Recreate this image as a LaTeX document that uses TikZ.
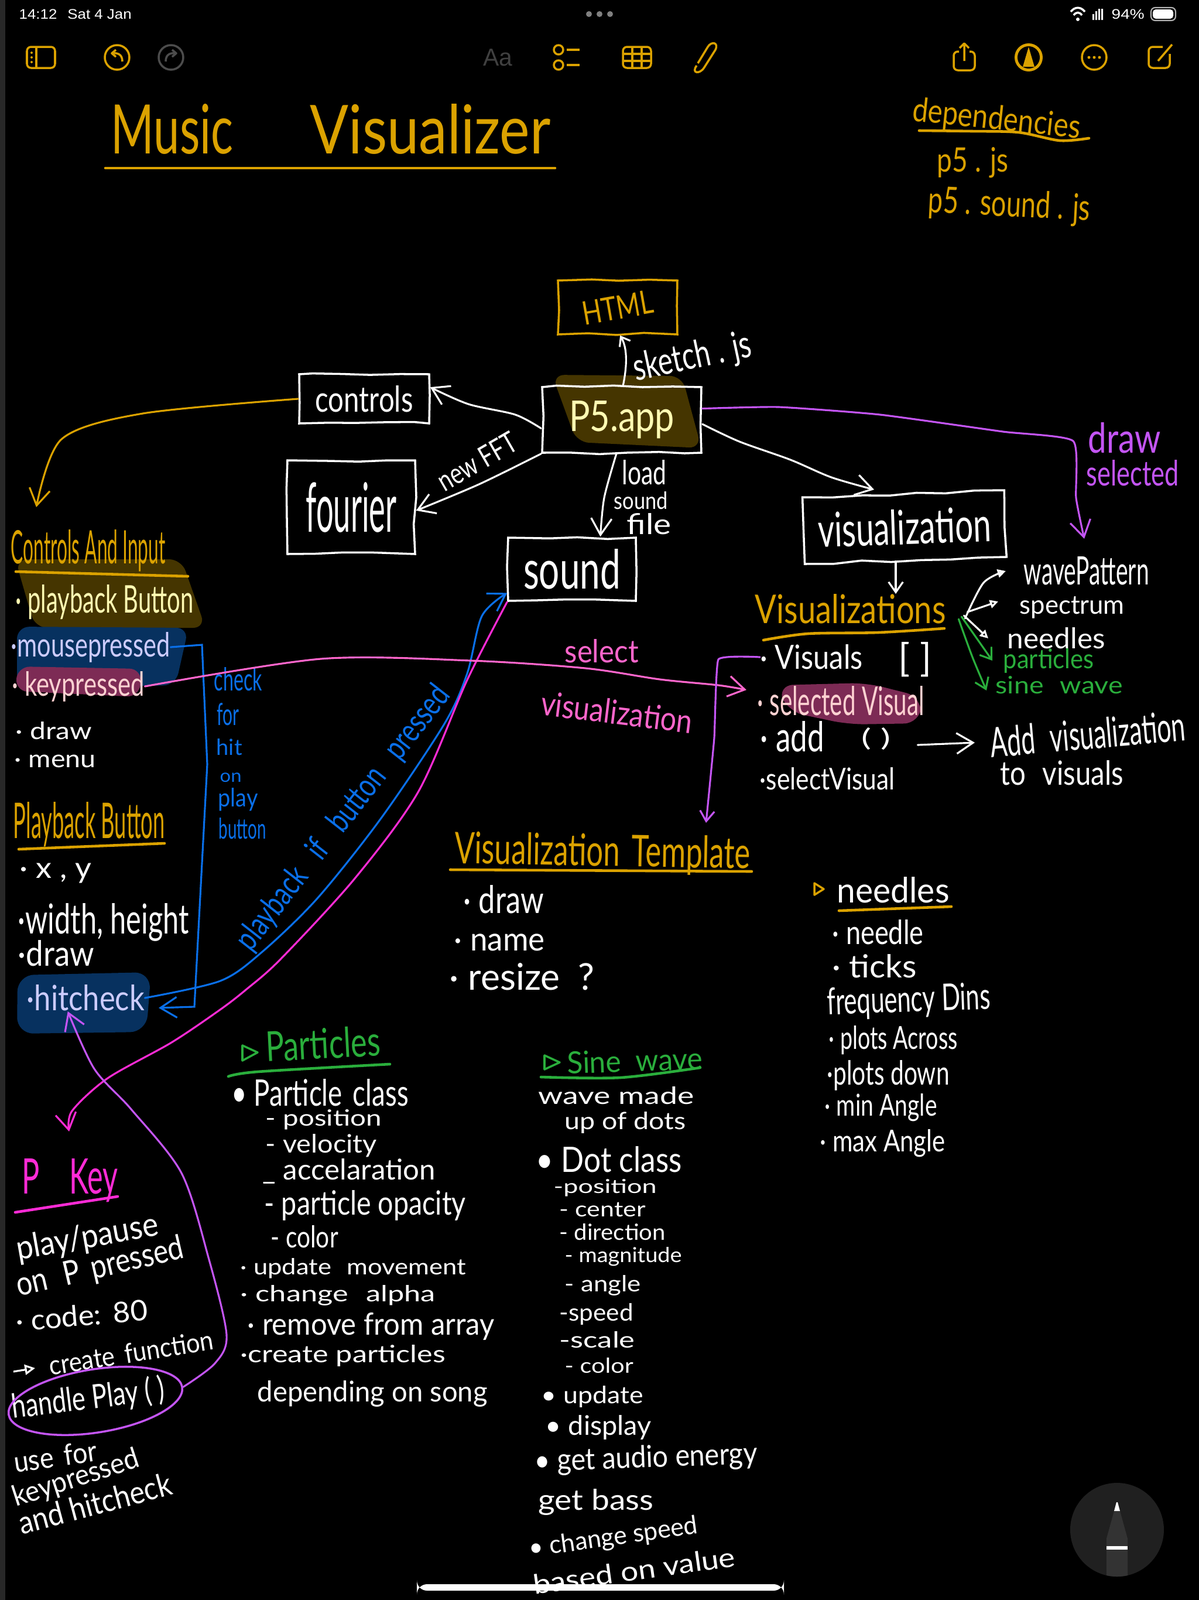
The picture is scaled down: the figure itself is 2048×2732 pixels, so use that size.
\documentclass[tikz,border=0pt]{standalone}
\usepackage{fontspec}
\usepackage{graphicx}
\usetikzlibrary{arrows.meta,decorations.pathmorphing,shapes.geometric}
\newfontfamily\handfont{Lato}
\newfontfamily\barfont{Liberation Sans}
\newlength\pxu
\setlength\pxu{0.01cm}
\newcommand{\hw}[3][30]{\resizebox{#2\pxu}{#1\pxu}{\handfont\vphantom{A}#3}}
\definecolor{penorange}{HTML}{DBA200}
\definecolor{pengreen}{HTML}{2AAE3C}
\definecolor{penblue}{HTML}{0A6FE8}
\definecolor{penpurple}{HTML}{C455F5}
\definecolor{penpink}{HTML}{FF66CC}
\definecolor{penmagenta}{HTML}{FF2BD6}
\definecolor{hlorange}{HTML}{453500}
\definecolor{hlblue}{HTML}{07315F}
\definecolor{hlpink}{HTML}{7D2B55}
\definecolor{barsoft}{HTML}{282828}
\definecolor{buttonsoft}{HTML}{202020}
\definecolor{pencilsoft}{HTML}{333333}
\tikzset{
  hand/.style={anchor=west,inner sep=0pt,text=white},
  boxed/.style={draw=white,text=white,line width=1pt,inner sep=0pt,
    decorate,decoration={random steps,segment length=14pt,amplitude=0.8pt}},
  conn/.style={->,white,line width=0.9pt,line cap=round,line join=round},
  small/.style={>={Straight Barb[length=5pt,width=7pt]}},
  ring/.style={-{Triangle[open,length=4pt,width=4pt]},white,line width=0.9pt,line cap=round},
  under/.style={line width=1.3pt,line cap=round},
  icon/.style={penorange,line width=1pt,line join=round}
}
\begin{document}
\begin{tikzpicture}[x=0.01cm,y=-0.01cm,>={Straight Barb[length=8pt,width=10pt]}]
  \useasboundingbox (0,0) rectangle (2048,2732);
  \fill[black] (0,0) rectangle (2048,2732);
  \fill[barsoft] (0,0) rectangle (9,2732);

  \node[hand] (clock) at (32,24) {\hw[17]{192}{\barfont 14:12\hspace{0.7em}Sat 4 Jan}};
  \fill[gray] (1006,24) circle (5) (1024,24) circle (5) (1042,24) circle (5);
  \draw[white,line width=1pt] (1829,20) .. controls (1836,11) and (1846,11) .. (1853,20);
  \draw[white,line width=1pt] (1834,26) .. controls (1838,20) and (1844,20) .. (1848,26);
  \fill[white] (1841,33) circle (3);
  \fill[white] (1866,24) rectangle (1869,34) (1871,19) rectangle (1874,34) (1876,15) rectangle (1879,34) (1881,15) rectangle (1884,34);
  \node[hand] (level) at (1898,24) {\hw[17]{56}{\barfont 94\%}};
  \draw[white!70!black,rounded corners=2pt,line width=0.6pt] (1966,13) rectangle (2008,35);
  \fill[white,rounded corners=1.5pt] (1969,16) rectangle (2004,32);

  \draw[icon,rounded corners=2pt] (46,80) rectangle (94,116);
  \draw[icon] (62,80) -- (62,116);
  \fill[penorange] (54,90) circle (2) (54,98) circle (2) (54,106) circle (2);
  \draw[icon] (200,98) circle (21);
  \draw[icon] (209,105) .. controls (209,92) and (200,90) .. (192,91);
  \draw[icon] (198,85) -- (191,91) -- (198,97);
  \draw[icon,draw=gray!60!black] (292,98) circle (21);
  \draw[icon,draw=gray!60!black] (283,105) .. controls (283,92) and (292,90) .. (300,91);
  \draw[icon,draw=gray!60!black] (294,85) -- (301,91) -- (294,97);
  \node[hand,text=gray!50!black] (aa) at (825,98) {\hw[30]{50}{\barfont Aa}};
  \draw[icon] (954,85) circle (8) (954,111) circle (8);
  \draw[icon] (968,85) -- (990,85) (968,111) -- (990,111);
  \draw[icon,rounded corners=2pt] (1064,80) rectangle (1112,116);
  \draw[icon] (1064,92) -- (1112,92) (1064,104) -- (1112,104) (1080,80) -- (1080,116) (1096,80) -- (1096,116);
  \draw[icon] (1190,112) .. controls (1180,125) and (1195,128) .. (1203,115) -- (1222,85) .. controls (1228,72) and (1215,70) .. (1209,80) -- (1192,108);
  \draw[icon,rounded corners=2pt] (1638,88) -- (1629,88) -- (1629,120) -- (1665,120) -- (1665,88) -- (1656,88);
  \draw[icon] (1647,104) -- (1647,74) (1639,82) -- (1647,74) -- (1655,82);
  \fill[penorange] (1757,98) circle (24);
  \fill[black] (1757,98) circle (19);
  \fill[penorange] (1757,80) -- (1767,114) -- (1747,114) -- cycle;
  \draw[icon] (1869,98) circle (21);
  \fill[penorange] (1860,98) circle (2.5) (1869,98) circle (2.5) (1878,98) circle (2.5);
  \draw[icon,rounded corners=2pt] (1986,80) -- (1962,80) -- (1962,116) -- (1998,116) -- (1998,92);
  \draw[icon] (1978,104) -- (2002,76);

  \node[hand,text=penorange] (title) at (189,220) {\hw[85]{209}{Music}\hspace{131\pxu}\hw[85]{411}{Visualizer}};
  \draw[under,penorange] (180,287) -- (948,287);
  \node[hand,text=penorange,rotate=-6] (deps) at (1558,190) {\hw[42]{288}{dependencies}};
  \draw[under,penorange] plot[smooth] coordinates {(1570,223) (1660,224) (1740,226) (1810,240) (1860,236)};
  \node[hand,text=penorange] (pfive) at (1600,278) {\hw[42]{122}{p5 . js}};
  \node[hand,text=penorange,rotate=-3] (pfivesound) at (1585,345) {\hw[46]{277}{p5 . sound . js}};

  \fill[hlorange,rounded corners=6pt] (943,640) -- (1165,642) -- (1198,765) -- (985,755) -- cycle;
  \node[boxed,draw=penorange,text=penorange,minimum width=204\pxu,minimum height=92\pxu] (html) at (1055,525) {\rotatebox{10}{\hw[40]{122}{HTML}}};
  \node[boxed,text=yellow!30!white,minimum width=272\pxu,minimum height=112\pxu] (app) at (1062,717) {\hw[52]{180}{P5.app}};
  \node[boxed,minimum width=222\pxu,minimum height=84\pxu] (controls) at (622,681) {\hw[45]{167}{controls}};
  \node[boxed,minimum width=218\pxu,minimum height=160\pxu] (fourier) at (600,866) {\hw[85]{155}{fourier}};
  \node[boxed,minimum width=218\pxu,minimum height=108\pxu] (sound) at (977,972) {\hw[68]{166}{sound}};
  \node[boxed,minimum width=345\pxu,minimum height=114\pxu,rotate=2] (visual) at (1545,900) {\hw[60]{296}{visualization}};

  \draw[<-,white,line width=0.9pt,line cap=round,>={Straight Barb[length=4pt,width=6pt]}] (html.-85) .. controls (1075,600) and (1068,640) .. (app.88);
  \node[hand,rotate=12] (sketch) at (1082,633) {\hw[48]{205}{sketch . js}};
  \draw[conn] plot[smooth] coordinates {(app.186) (880,708) (800,690) (controls.10)};
  \draw[conn] plot[smooth] coordinates {(app.south west) (818,827) (fourier.-3)};
  \node[hand,rotate=30] (newfft) at (750,825) {\hw[36]{148}{new FFT}};
  \draw[conn] plot[smooth] coordinates {(app.-99) (1032,850) (sound.49)};
  \node[hand] (load) at (1062,807) {\hw[42]{76}{load}};
  \node[hand] (soundlabel) at (1048,855) {\hw[30]{92}{sound}};
  \node[hand] (filelabel) at (1070,895) {\hw[36]{76}{file}};
  \draw[conn] plot[smooth] coordinates {(app.-3) (1263,754) (1350,785) (1420,815) (1493,836)};
  \draw[conn,penpurple] plot[smooth,tension=0.3] coordinates {(app.8) (1330,695) (1503,708) (1713,737) (1833,753) (1838,850) (1852,920)};
  \node[hand,text=penpurple] (drawsel) at (1858,748) {\hw[52]{124}{draw}};
  \node[hand,text=penpurple] (selected) at (1855,808) {\hw[44]{158}{selected}};
  \draw[conn,penorange] plot[smooth] coordinates {(controls.west) (244,706) (105,750) (62,866)};

  \fill[hlorange,rounded corners=6pt] (26,955) -- (310,955) -- (351,1072) -- (60,1072) -- cycle;
  \fill[hlblue,rounded corners=6pt] (29,1070) -- (322,1072) -- (300,1170) -- (29,1176) -- cycle;
  \fill[hlpink,rounded corners=6pt] (30,1138) -- (242,1142) -- (238,1190) -- (26,1180) -- cycle;
  \fill[hlblue,rounded corners=8pt] (30,1665) -- (258,1660) -- (250,1762) -- (29,1765) -- cycle;
  \fill[hlpink,rounded corners=8pt] (1327,1170) -- (1480,1166) -- (1575,1190) -- (1572,1235) -- (1450,1237) -- (1345,1215) -- cycle;

  \node[hand,text=penorange] (ctrlinput) at (18,940) {\hw[58]{264}{Controls And Input}};
  \draw[under,penorange] (27,976) -- (321,984);
  \node[hand,text=yellow!30!white] (playback) at (26,1028) {\hw[48]{304}{· playback Button}};
  \node[hand,text=blue!20!white] (mouse) at (18,1105) {\hw[42]{272}{·mousepressed}};
  \node[hand,text=pink!70!white] (keypressed) at (20,1172) {\hw[42]{226}{· keypressed}};
  \node[hand] (ctrldraw) at (26,1248) {\hw[30]{130}{· draw}};
  \node[hand] (menu) at (24,1296) {\hw[30]{139}{· menu}};
  \node[hand,text=penorange] (pbutton) at (22,1408) {\hw[62]{259}{Playback Button}};
  \draw[under,penorange] (32,1450) -- (281,1440);
  \node[hand] (xy) at (33,1486) {\hw[36]{123}{· x , y}};
  \node[hand] (size) at (30,1575) {\hw[52]{292}{·width, height}};
  \node[hand] (btndraw) at (30,1628) {\hw[44]{130}{·draw}};
  \node[hand,text=blue!20!white] (hitcheck) at (45,1704) {\hw[44]{201}{·hitcheck}};

  \coordinate (hittip) at (271,1721);
  \draw[conn,penblue,line join=miter] (mouse.east) -- (345,1101) -- (354,1305) -- (332,1719) -- (hittip);
  \node[hand,text=penblue] (check) at (365,1160) {\hw[40]{82}{check}};
  \node[hand,text=penblue] (chkfor) at (370,1220) {\hw[38]{38}{for}};
  \node[hand,text=penblue] (chkhit) at (369,1276) {\hw[28]{44}{hit}};
  \node[hand,text=penblue] (chkon) at (375,1325) {\hw[22]{37}{on}};
  \node[hand,text=penblue] (chkplay) at (372,1365) {\hw[32]{68}{play}};
  \node[hand,text=penblue] (chkbtn) at (373,1415) {\hw[36]{81}{button}};
  \draw[conn,penblue] plot[smooth] coordinates {(hitcheck.east) (376,1675) (447,1626) (542,1534) (651,1397) (759,1236) (798,1150) (823,1052) (sound.200)};
  \node[text=penblue,inner sep=0pt,rotate=52] (pbif) at (587,1397) {\hw[42]{556}{playback\hspace{0.8em}if\hspace{0.8em}button\hspace{0.8em}pressed}};
  \coordinate (pkeytip) at (118,1932);
  \draw[conn,penmagenta] plot[smooth] coordinates {(sound.south west) (798,1161) (715,1351) (606,1500) (479,1638) (420,1690) (376,1724) (293,1780) (184,1841) (123,1897) (pkeytip)};

  \draw[conn,penpink] plot[smooth] coordinates {(keypressed.east) (548,1125) (804,1128) (1000,1141) (1127,1160) (1227,1170) (1275,1178)};
  \node[hand,text=penpink] (select) at (964,1112) {\hw[40]{126}{select}};
  \node[hand,text=penpink,rotate=-7] (visselect) at (924,1200) {\hw[42]{260}{visualization}};

  \node[hand,text=penorange] (visuals) at (1289,1040) {\hw[50]{326}{Visualizations}};
  \draw[under,penorange] plot[smooth] coordinates {(1304,1093) (1380,1082) (1500,1080) (1613,1073)};
  \draw[conn,small] ([xshift=-17\pxu]visual.south) -- ([xshift=-17\pxu]visual.south |- visuals.north);
  \node[hand] (vislist) at (1298,1122) {\hw[42]{175}{· Visuals}};
  \node[hand] (vislistb) at (1534,1126) {\hw[50]{57}{[ ]}};
  \node[hand,text=pink!70!white] (selvisual) at (1293,1197) {\hw[50]{285}{· selected Visual}};
  \node[hand] (addvis) at (1298,1258) {\hw[52]{109}{· add}};
  \node[hand] (addvisb) at (1471,1262) {\hw[32]{50}{( )}};
  \node[hand] (selectv) at (1297,1330) {\hw[38]{231}{·selectVisual}};
  \node[hand,rotate=5] (addtext) at (1691,1268) {\hw[52]{334}{Add\hspace{0.6em}visualization}};
  \node[hand] (totext) at (1708,1320) {\hw[42]{210}{to\hspace{0.6em}visuals}};
  \draw[conn] ([xshift=45\pxu,yshift=-10\pxu]addvisb.east) -- ([xshift=-26\pxu]addtext.west);

  \node[hand] (wave) at (1748,975) {\hw[48]{214}{wavePattern}};
  \node[hand] (spectrum) at (1741,1036) {\hw[32]{179}{spectrum}};
  \node[hand] (needles) at (1720,1090) {\hw[36]{167}{needles}};
  \node[hand,text=pengreen] (particles) at (1713,1128) {\hw[34]{155}{particles}};
  \node[hand,text=pengreen] (sinewave) at (1700,1170) {\hw[30]{217}{sine\hspace{0.6em}wave}};
  \draw[ring] plot[smooth] coordinates {([xshift=32\pxu,yshift=-16\pxu]visuals.east) (1680,995) ([xshift=-30\pxu]wave.west)};
  \draw[ring] ([xshift=36\pxu,yshift=-5\pxu]visuals.east) -- ([xshift=-36\pxu,yshift=9\pxu]spectrum.west);
  \draw[ring] ([xshift=30\pxu,yshift=-11\pxu]visuals.east) -- ([xshift=-32\pxu]needles.west);
  \draw[conn,small,pengreen] ([xshift=26\pxu,yshift=-13\pxu]visuals.east) -- ([xshift=-18\pxu]particles.west);
  \draw[conn,small,pengreen] plot[smooth] coordinates {([xshift=21\pxu,yshift=-17\pxu]visuals.east) (1661,1122) ([xshift=-15\pxu,yshift=-9\pxu]sinewave.west)};

  \coordinate (templatetip) at (1206,1405);
  \draw[conn,penpurple,small] plot[smooth,tension=0.2] coordinates {(vislist.west) (1227,1126) (1220,1260) (templatetip)};
  \node[hand,text=penorange,rotate=-1] (template) at (776,1453) {\hw[55]{505}{Visualization\hspace{0.4em}Template}};
  \draw[under,penorange] (769,1485) -- (1284,1488);
  \node[hand] (tpldraw) at (791,1536) {\hw[48]{137}{· draw}};
  \node[hand] (tplname) at (775,1604) {\hw[40]{155}{· name}};
  \node[hand] (tplsize) at (767,1668) {\hw[46]{248}{· resize\hspace{0.5em}?}};

  \draw[icon,draw=penorange] (1391,1508) -- (1407,1518) -- (1391,1528) -- cycle;
  \node[hand] (ndlhead) at (1429,1520) {\hw[44]{192}{needles}};
  \draw[under,penorange] (1433,1555) -- (1625,1548);
  \node[hand] (needle) at (1421,1592) {\hw[42]{156}{· needle}};
  \node[hand] (ticks) at (1421,1650) {\hw[40]{144}{· ticks}};
  \node[hand,rotate=2] (freq) at (1412,1715) {\hw[46]{279}{frequency Dins}};
  \node[hand] (across) at (1415,1776) {\hw[40]{220}{· plots Across}};
  \node[hand] (down) at (1412,1836) {\hw[42]{209}{·plots down}};
  \node[hand] (minang) at (1408,1891) {\hw[38]{192}{· min Angle}};
  \node[hand] (maxang) at (1400,1952) {\hw[38]{214}{· max Angle}};

  \draw[icon,draw=pengreen] (414,1785) -- (440,1797) -- (414,1811) -- cycle;
  \node[hand,text=pengreen,rotate=3] (particlehead) at (453,1787) {\hw[52]{196}{Particles}};
  \draw[under,pengreen] plot[smooth] coordinates {(390,1838) (440,1830) (666,1817)};
  \node[hand] (particleclass) at (395,1866) {\hw[46]{302}{• Particle\hspace{0.4em}class}};
  \node[hand] (position) at (453,1912) {\hw[28]{198}{- position}};
  \node[hand] (velocity) at (453,1956) {\hw[32]{190}{- velocity}};
  \node[hand] (accel) at (448,2000) {\hw[36]{295}{\_ accelaration}};
  \node[hand] (opacity) at (451,2058) {\hw[42]{344}{- particle opacity}};
  \node[hand] (pcolor) at (462,2112) {\hw[38]{115}{- color}};
  \node[hand] (update) at (410,2166) {\hw[28]{385}{· update\hspace{0.6em}movement}};
  \node[hand] (change) at (410,2212) {\hw[28]{333}{· change\hspace{0.6em}alpha}};
  \node[hand] (remove) at (422,2265) {\hw[38]{422}{· remove from array}};
  \node[hand] (createp) at (410,2315) {\hw[30]{350}{·create particles}};
  \node[hand] (depending) at (439,2380) {\hw[36]{393}{depending on song}};

  \draw[icon,draw=pengreen] (930,1802) -- (956,1814) -- (930,1826) -- cycle;
  \node[hand,text=pengreen,rotate=2] (sinehead) at (968,1815) {\hw[38]{231}{Sine\hspace{0.5em}wave}};
  \draw[under,pengreen] plot[smooth] coordinates {(924,1839) (1060,1840) (1196,1823)};
  \node[hand] (wavemade) at (919,1871) {\hw[30]{266}{wave made}};
  \node[hand] (updots) at (964,1917) {\hw[30]{207}{up of dots}};
  \node[hand] (dotclass) at (915,1980) {\hw[44]{249}{• Dot class}};
  \node[hand] (dpos) at (945,2028) {\hw[24]{176}{-position}};
  \node[hand] (dcenter) at (955,2065) {\hw[26]{147}{- center}};
  \node[hand] (ddir) at (955,2104) {\hw[28]{181}{- direction}};
  \node[hand] (dmag) at (964,2146) {\hw[26]{200}{- magnitude}};
  \node[hand] (dangle) at (964,2195) {\hw[28]{130}{- angle}};
  \node[hand] (dspeed) at (955,2244) {\hw[30]{126}{-speed}};
  \node[hand] (dscale) at (955,2288) {\hw[28]{129}{-scale}};
  \node[hand] (dcolor) at (964,2332) {\hw[26]{117}{- color}};
  \node[hand] (dupdate) at (924,2385) {\hw[30]{174}{• update}};
  \node[hand] (ddisplay) at (931,2437) {\hw[34]{181}{• display}};
  \node[hand,rotate=2] (denergy) at (912,2498) {\hw[38]{381}{• get audio energy}};
  \node[hand] (dbass) at (919,2565) {\hw[36]{197}{get bass}};
  \node[hand,rotate=8] (dchange) at (903,2647) {\hw[32]{291}{• change speed}};
  \node[hand,rotate=8] (dbased) at (910,2706) {\hw[34]{348}{based on value}};

  \node[hand,text=penmagenta] (pkey) at (37,2016) {\hw[60]{164}{P\hspace{1em}Key}};
  \draw[under,penmagenta] (26,2070) -- (201,2043);
  \node[hand,rotate=10] (playpause) at (28,2136) {\hw[42]{245}{play/pause}};
  \node[hand,rotate=13] (onp) at (28,2198) {\hw[42]{292}{on\hspace{0.6em}P\hspace{0.4em}pressed}};
  \node[hand,rotate=5] (keycode) at (26,2256) {\hw[36]{226}{· code:\hspace{0.4em}80}};
  \coordinate (createstart) at (23,2342);
  \draw[white,line width=0.9pt,-{Triangle[open,length=5pt,width=5pt]}] (createstart) -- (60,2336);
  \node[hand,rotate=9] (create) at (83,2332) {\hw[34]{284}{create\hspace{0.4em}function}};
  \node[hand,rotate=7] (handle) at (20,2405) {\hw[44]{262}{handle Play ( )}};
  \node[draw=penpurple,ellipse,line width=1pt,inner sep=0pt,minimum width=300\pxu,minimum height=108\pxu,rotate=9] (handleloop) at (163,2392) {};
  \draw[conn,penpurple] plot[smooth] coordinates {(handleloop.east) (367,2328) (387,2279) (356,2147) (310,2003) (224,1894) (161,1825) (hitcheck.217)};
  \node[hand,rotate=8] (usefor) at (23,2497) {\hw[36]{143}{use\hspace{0.4em}for}};
  \node[hand,rotate=18] (keyuse) at (23,2560) {\hw[36]{224}{keypressed}};
  \node[hand,rotate=15] (hituse) at (32,2602) {\hw[40]{268}{and hitcheck}};

  \fill[white,rounded corners=5pt] (712,2705) rectangle (1339,2716);
  \fill[buttonsoft] (1908,2612) circle (80);
  \begin{scope}
    \clip (1908,2612) circle (80);
    \fill[pencilsoft] (1890,2692) -- (1890,2627) -- (1903,2580) -- (1913,2580) -- (1926,2627) -- (1926,2692) -- cycle;
  \end{scope}
  \fill[white] (1903,2580) -- (1907,2565) -- (1909,2565) -- (1913,2580) -- cycle;
  \fill[white] (1890,2640) rectangle (1926,2646);
\end{tikzpicture}
\end{document}
